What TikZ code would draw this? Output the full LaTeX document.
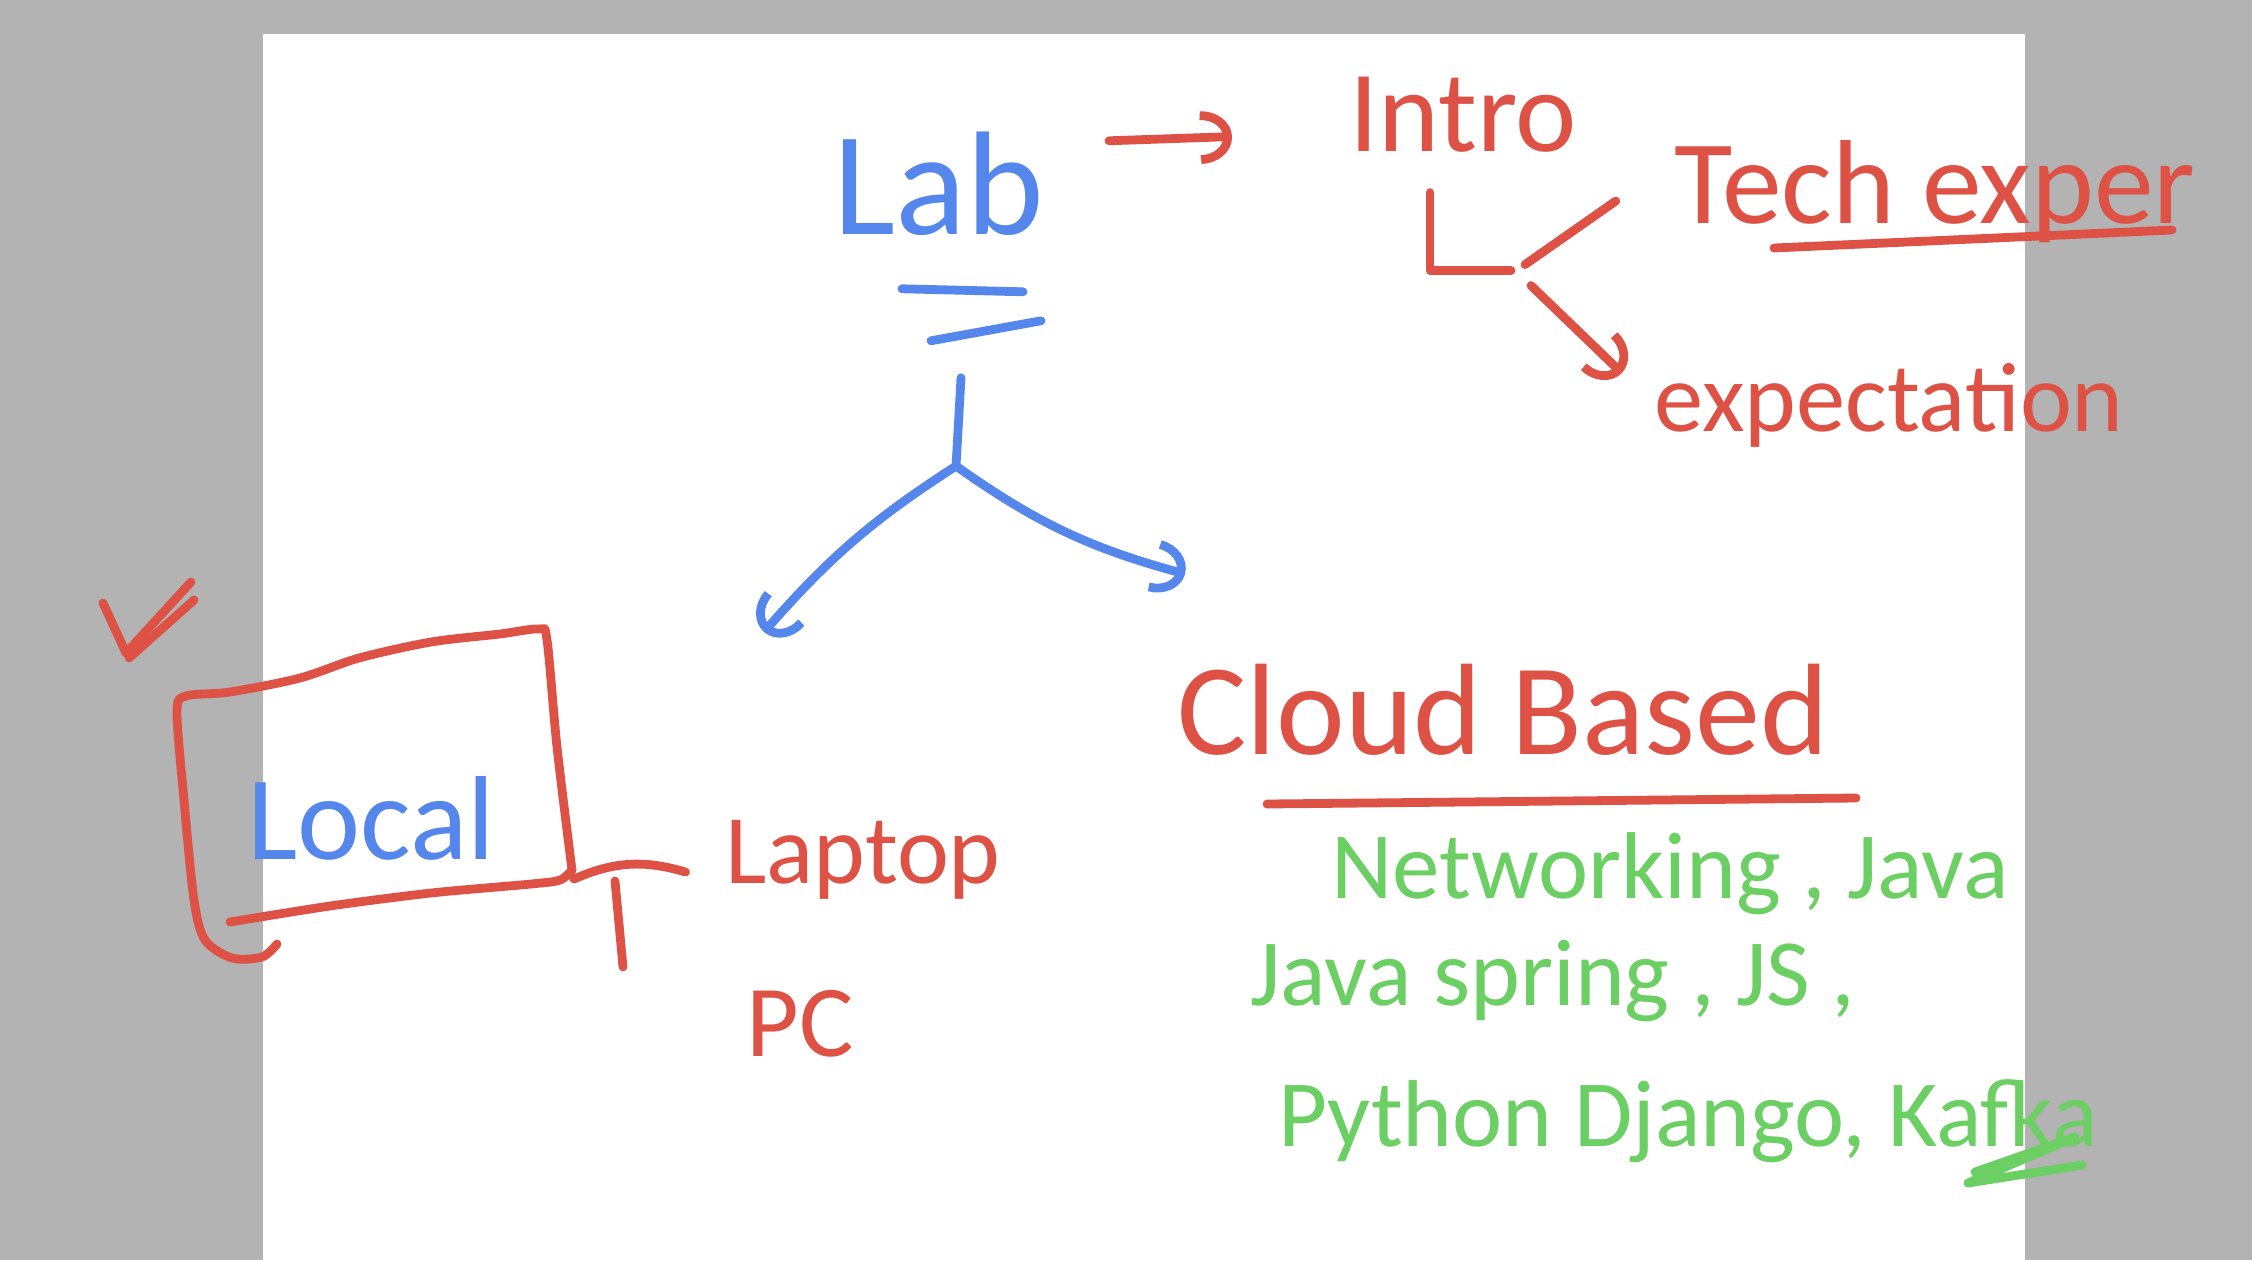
\documentclass[tikz,border=0pt]{standalone}
\usepackage{fontspec}
\setmainfont{Carlito}
\usetikzlibrary{arrows.meta}
\definecolor{inkblue}{RGB}{84,134,235}
\definecolor{inkred}{RGB}{222,81,69}
\definecolor{inkgreen}{RGB}{107,207,99}
\definecolor{boardgray}{RGB}{179,179,179}

\begin{document}
\begin{tikzpicture}[x=0.01cm, y=-0.01cm,
    ink/.style={line width=2.5pt, line cap=round, line join=round},
    blueink/.style={ink, draw=inkblue},
    redink/.style={ink, draw=inkred},
    greenink/.style={ink, draw=inkgreen},
    pentip/.style={-{Arc Barb[length=9pt,width=15pt]}},
    every node/.style={inner sep=0pt, anchor=base}]
  \fill[boardgray] (0,0) rectangle (2252,1260);
  \fill[white] (263,34) rectangle (2025,1260);
  \useasboundingbox (0,0) rectangle (2252,1260);

  \node[text=inkblue, font=\fontsize{42}{48}\selectfont] (lab) at (939,234) {Lab};
  \node[text=inkred, font=\fontsize{33}{40}\selectfont] (intro) at (1463,151) {Intro};
  \node[text=inkred, font=\fontsize{34}{40}\selectfont] (tech) at (1935,223) {Tech exper};
  \node[text=inkred, font=\fontsize{28}{34}\selectfont] (expect) at (1889,431) {expectation};
  \node[text=inkblue, font=\fontsize{34}{40}\selectfont] (local) at (371,859) {Local};
  \node[text=inkred, font=\fontsize{28}{34}\selectfont] (laptop) at (863,883) {Laptop};
  \node[text=inkred, font=\fontsize{29}{34}\selectfont] (pc) at (800,1056) {PC};
  \node[text=inkred, font=\fontsize{37}{44}\selectfont] (cloud) at (1503,754) {Cloud Based};
  \node[text=inkgreen, font=\fontsize{27}{32}\selectfont] (line1) at (1670,898) {Networking ,\ Java};
  \node[text=inkgreen, font=\fontsize{27}{32}\selectfont] (line2) at (1553,1005) {Java spring , JS ,};
  \node[text=inkgreen, font=\fontsize{27}{32}\selectfont] (line3) at (1688,1146) {Python Django, Kafka};

  \draw[blueink] ([shift={(-37,53)}]lab.south) -- ([shift={(84,56)}]lab.south);
  \draw[blueink] ([shift={(-8,105)}]lab.south) -- ([shift={(102,85)}]lab.south);
  \coordinate (fork) at (956,466);
  \coordinate (localtip) at (764,632);
  \coordinate (cloudtip) at (1185,574);
  \draw[blueink] ([shift={(22,142)}]lab.south) -- (fork);
  \draw[blueink, pentip] (fork) to[bend right=8] (localtip);
  \draw[blueink, pentip] (fork) to[bend right=10] (cloudtip);

  \draw[redink, pentip] ([shift={(170,-95)}]lab.south) -- ([shift={(-231,-16)}]intro.south);
  \draw[redink] ([shift={(-33,40)}]intro.south) |- ([shift={(48,118)}]intro.south);
  \draw[redink] ([shift={(62,112)}]intro.south) -- ([shift={(-58,-22)}]tech.base west);
  \draw[redink, pentip] ([shift={(68,133)}]intro.south) -- ([shift={(-32,-58)}]expect.base west);
  \draw[redink] ([shift={(-161,25)}]tech.base) -- ([shift={(237,7)}]tech.base);

  \draw[redink] (103,603) -- (126,653) -- (191,582);
  \draw[redink] (194,600) -- (129,658);
  \draw[redink] plot[smooth, tension=0.5] coordinates {(277,944) (262,957) (232,958) (205,940) (194,900) (184,800) (177,712) (186,696) (230,692) (300,678) (359,658) (431,642) (500,634) (539,629) (547,640) (557,747) (572,870)};
  \draw[redink] plot[smooth, tension=0.5] coordinates {(572,870) (560,880) (531,884) (431,893) (330,906) (230,922)};
  \coordinate (boxport) at (574,879);
  \draw[redink] (boxport) to[bend left=20] ([shift={(-39,-11)}]laptop.base west);
  \draw[redink] (boxport) ++(41,2) -- ++(8,86);

  \draw[redink] ([shift={(-236,50)}]cloud.base) -- ([shift={(353,44)}]cloud.base);
  \draw[greenink] (1975,1172) -- (2075,1137) -- (1968,1183) -- (2082,1165);
\end{tikzpicture}
\end{document}
